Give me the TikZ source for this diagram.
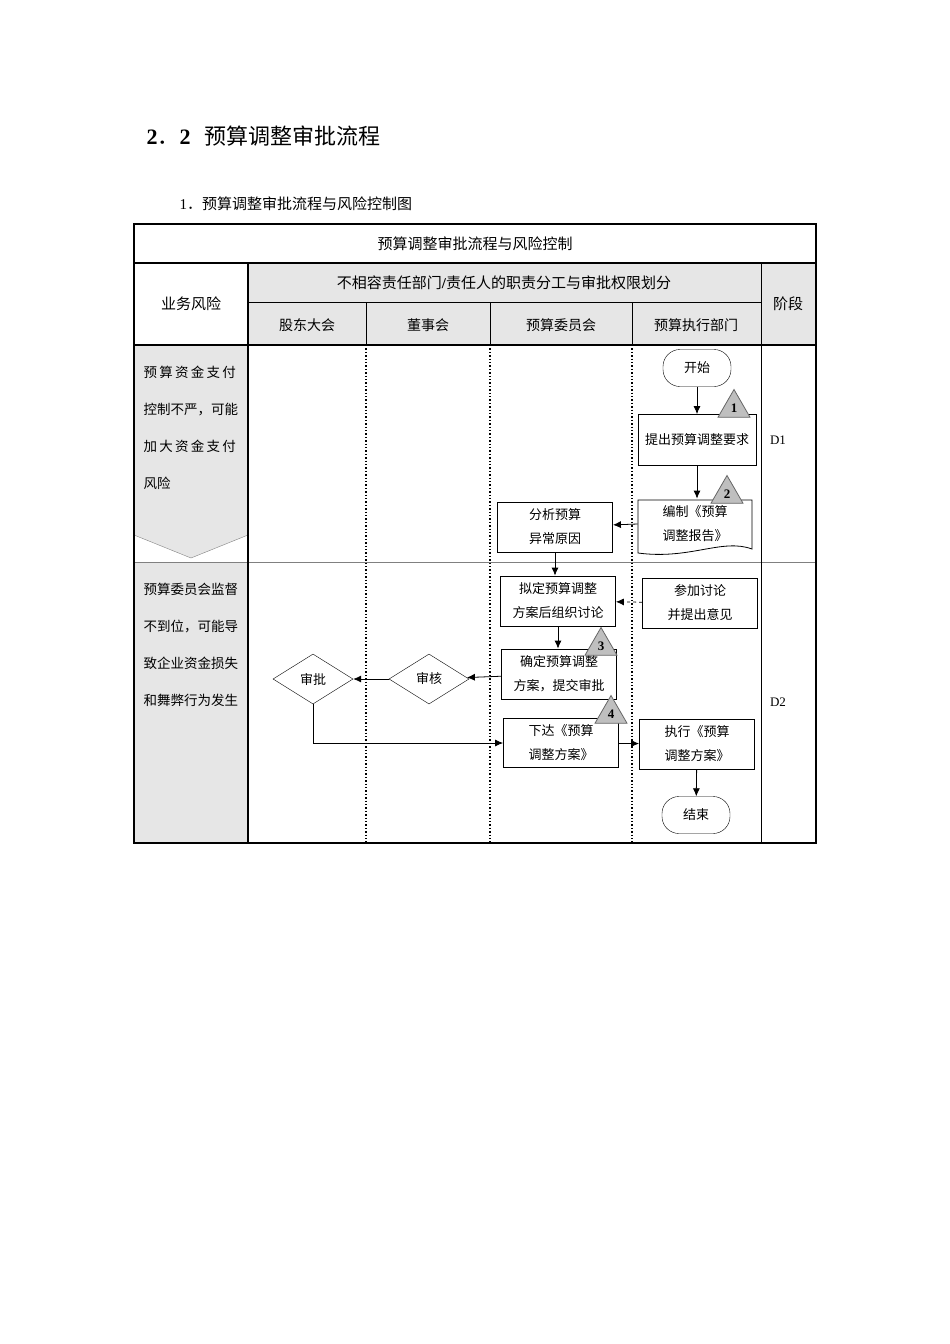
\documentclass[tikz,border=0pt]{standalone}
\usepackage{fontspec}
\setmainfont{Noto Sans CJK SC}
\newfontfamily\lat{Liberation Serif}
\usetikzlibrary{arrows.meta,shapes.geometric}
\definecolor{lg}{HTML}{E6E6E6}
\definecolor{tg}{HTML}{BFBFBF}
\tikzset{x=1pt,y=-1pt,
 box/.style={draw,thick,minimum width=115pt,minimum height=50pt,align=center,font=\fontsize{13}{24}\selectfont,inner sep=1pt},
 term/.style={draw,rounded corners=17pt,minimum width=68pt,minimum height=37pt,font=\fontsize{13}{14}\selectfont},
 dia/.style={draw,diamond,aspect=1.6,minimum width=80pt,minimum height=50pt,inner sep=0pt,font=\fontsize{13}{14}\selectfont},
 arr/.style={-{Latex[length=8pt,width=7pt]},thick},
 tri/.style={draw=gray!80!black,fill=tg,thick,regular polygon,regular polygon sides=3,minimum size=37pt,inner sep=0pt,font=\lat\bfseries\fontsize{13}{13}\selectfont},
 dl/.style={dotted,line width=1.4pt},
 hd/.style={font=\fontsize{14}{15}\selectfont}}
\begin{document}
\begin{tikzpicture}
\useasboundingbox (0,0) rectangle (950,1344);
\node[anchor=west,font=\fontsize{22}{24}\selectfont] (h1) at (143,136) {{\lat\bfseries 2}．{\lat\bfseries 2}\hspace{14pt}预算调整审批流程};
\node[anchor=west,font=\fontsize{15}{16}\selectfont] (h2) at (176,204) {{\lat 1}．预算调整审批流程与风险控制图};
% header fills
\fill[lg] (248,263) rectangle (761,345);
\fill[lg] (761,263) rectangle (816,345);
\fill[lg] (134,345) rectangle (248,843);
\fill[white] (134,535) -- (191,558) -- (248,535) -- (248,562) -- (134,562) -- cycle;
\draw[gray] (134,535) -- (191,558) -- (248,535);
\draw[gray,thick] (134,562) -- (816,562);
% grid
\draw[line width=1.2pt] (134,224) rectangle (816,843);
\draw[line width=1.2pt] (134,263) -- (816,263);
\draw[line width=1.2pt] (134,345) -- (816,345);
\draw[thick] (248,302) -- (761,302);
\draw[line width=1.2pt] (248,263) -- (248,843);
\draw[thick] (761,263) -- (761,843);
\foreach \x in {366,490,632}{\draw[thick] (\x,302) -- (\x,345); \draw[dl] (\x,345) -- (\x,843);}
\node[font=\fontsize{15}{16}\selectfont] (t0) at (475,244) {预算调整审批流程与风险控制};
\node[font=\fontsize{15}{16}\selectfont] (t1) at (191,304) {业务风险};
\node[font=\fontsize{15}{16}\selectfont] (t2) at (504,283) {不相容责任部门{\lat\bfseries /}责任人的职责分工与审批权限划分};
\node[font=\fontsize{15}{16}\selectfont] (t3) at (788,304) {阶段};
\node[hd] (c1) at (307,325) {股东大会};
\node[hd] (c2) at (428,325) {董事会};
\node[hd] (c3) at (561,325) {预算委员会};
\node[hd] (c4) at (696,325) {预算执行部门};
\node[anchor=north west,align=left,font=\fontsize{13.5}{37}\selectfont] (r1) at (140,362) {预\,算\,资\,金\,支\,付\\控制不严，可能\\加\,大\,资\,金\,支\,付\\风险};
\node[anchor=north west,align=left,font=\fontsize{13.5}{37}\selectfont] (r2) at (140,580) {预算委员会监督\\不到位，可能导\\致企业资金损失\\和舞弊行为发生};
\node[font=\lat\fontsize{13}{15}\selectfont] (d1) at (778,440) {D1};
\node[font=\lat\fontsize{13}{15}\selectfont] (d2) at (778,702) {D2};
% nodes
\node[term] (start) at (697,368) {开始};
\node[box,minimum width=118pt,minimum height=51pt] (n1) at (697,440) {提出预算调整要求};
\node[box,draw=none,minimum width=114pt,minimum height=50pt] (n2) at (695,524) {编制《预算\\调整报告》};
\draw[thick] (638,500) -- (752,500) -- (752,549) .. controls (722,538) and (690,560) .. (638,553) -- cycle;
\node[box] (n3) at (555,527) {分析预算\\异常原因};
\node[box] (n4) at (558,601) {拟定预算调整\\方案后组织讨论};
\node[box] (n5) at (700,603) {参加讨论\\并提出意见};
\node[box] (n6) at (559,674) {确定预算调整\\方案，提交审批};
\node[dia] (a1) at (429,679) {审核};
\node[dia] (a2) at (313,679) {审批};
\node[box,minimum height=49pt] (n7) at (561,743) {下达《预算\\调整方案》};
\node[box] (n8) at (697,744) {执行《预算\\调整方案》};
\node[term] (end) at (696,815) {结束};
\node[tri] (k1) at (734,408) {\raisebox{-6pt}{1}};
\node[tri] (k2) at (727,494) {\raisebox{-6pt}{2}};
\node[tri] (k3) at (601,646) {\raisebox{-6pt}{3}};
\node[tri] (k4) at (611,714) {\raisebox{-6pt}{4}};
% connectors
\draw[arr] (start) -- (n1);
\draw[arr] (n1) -- (n2.north-|n1);
\draw[arr] (n2.west) -- (n3);
\draw[arr] (n3) -- (n4.north-|n3);
\draw[arr,dashed] (n5) -- (n4);
\draw[arr] (n4) -- (n6.north-|n4);
\draw[arr] (n6) -- (a1);
\draw[arr] (a1) -- (a2);
\draw[arr] (a2.south) |- (n7.west);
\draw[arr] (n7) -- (n8);
\draw[arr] (n8) -- (end);
\end{tikzpicture}
\end{document}
